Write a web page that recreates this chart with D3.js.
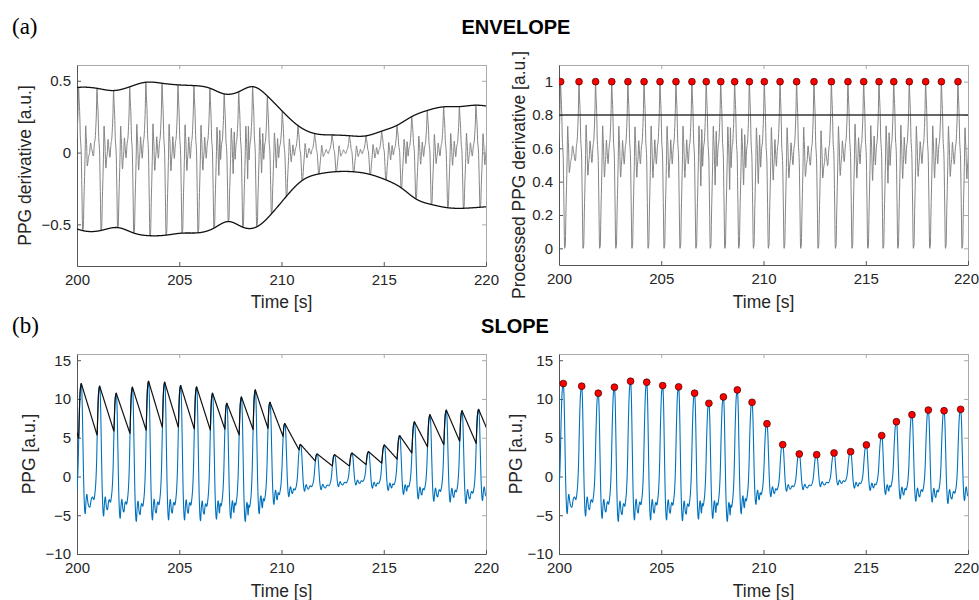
<!DOCTYPE html>
<html>
<head>
<meta charset="utf-8">
<script src="https://cdn.jsdelivr.net/npm/d3@7"></script>
<style>
  body { margin: 0; background: #fff; }
  svg { display: block; font-family: 'Liberation Sans', Arial, sans-serif; }
  .tick text { font-size: 15px; fill: #262626; }
  .axis-main path, .axis-main line { stroke: #555; }
  .axis-box path, .axis-box line { stroke: #aaa; }
  .label { font-size: 17.5px; fill: #262626; }
</style>
</head>
<body>
<svg id="chart" width="979" height="600"></svg>
<script>
// values
const timeTicks = [200, 205, 210, 215, 220]
const derivTicks = [-0.5, 0, 0.5]
const procTicks = [0, 0.2, 0.4, 0.6, 0.8, 1]
const ppgTicks = [-10, -5, 0, 5, 10, 15]

// PPG beats: peak time [s], peak value, trough after the peak [a.u.]
const beatTime = [198.55, 199.32, 200.21, 201.11, 201.92, 202.71, 203.50, 204.29, 205.07, 205.85,
  206.63, 207.33, 208.04, 208.72, 209.44, 210.17, 210.94, 211.75, 212.60, 213.45,
  214.26, 215.03, 215.78, 216.50, 217.26, 218.06, 218.83, 219.64, 220.42]
const beatPeak = [11.6, 11.0, 11.99, 11.65, 10.74, 11.52, 12.29, 12.16, 11.73, 11.56,
  10.74, 9.44, 10.26, 11.17, 9.57, 6.80, 4.11, 2.90, 2.81, 3.03,
  3.20, 4.07, 5.28, 7.06, 7.97, 8.57, 8.48, 8.66, 8.6]
const beatFoot = [-5.0, -4.8, -4.8, -5.1, -5.4, -5.8, -5.6, -5.6, -5.6, -5.7,
  -5.5, -5.4, -5.8, -4.8, -3.6, -2.6, -1.9, -1.7, -1.3, -1.1,
  -1.5, -1.8, -2.3, -2.9, -3.2, -3.3, -3.5, -3.1, -3.0]

// one beat, peak to next peak (nominal 0.8 s), level 0 = trough, 1 = peak
const beatShapePhase = [0, 0.05, 0.10, 0.15, 0.20, 0.24, 0.29, 0.34, 0.41, 0.47,
  0.53, 0.58, 0.64, 0.70, 0.76, 0.81, 0.86, 0.92, 0.96, 1]
const beatShapeLevel = [1, 0.88, 0.55, 0.22, 0.04, 0.0, 0.10, 0.15, 0.07, 0.05,
  0.11, 0.13, 0.11, 0.15, 0.24, 0.40, 0.68, 0.92, 0.98, 1]

const ENV_UPPER_MAX = 0.49     // highest upper envelope of the derivative
const THRESHOLD = 0.8
const SLOPE_DECAY = 0.72       // slope threshold decay, fraction of peak per second
const FS = 100
const P0 = 0.8, FALL = 0.3, RISE = 0.3   // fall and rise keep their nominal duration

// monotone cubic interpolation (flat at both ends)
function monotone(xs, ys) {
  const n = xs.length
  const d = [], m = []
  for (let i = 0; i < n - 1; i++) d.push((ys[i + 1] - ys[i]) / (xs[i + 1] - xs[i]))
  m[0] = 0
  m[n - 1] = 0
  for (let i = 1; i < n - 1; i++) m[i] = d[i - 1] * d[i] <= 0 ? 0 : (d[i - 1] + d[i]) / 2
  for (let i = 0; i < n - 1; i++) {
    if (d[i] === 0) { m[i] = 0; m[i + 1] = 0; continue }
    const a = m[i] / d[i], b = m[i + 1] / d[i]
    const s = a * a + b * b
    if (s > 9) {
      const k = 3 / Math.sqrt(s)
      m[i] = k * a * d[i]
      m[i + 1] = k * b * d[i]
    }
  }
  return x => {
    if (x <= xs[0]) return ys[0]
    if (x >= xs[n - 1]) return ys[n - 1]
    const i = d3.bisectRight(xs, x) - 1
    const h = xs[i + 1] - xs[i], t = (x - xs[i]) / h
    const t2 = t * t, t3 = t2 * t
    return (2 * t3 - 3 * t2 + 1) * ys[i] + (t3 - 2 * t2 + t) * h * m[i] +
      (-2 * t3 + 3 * t2) * ys[i + 1] + (t3 - t2) * h * m[i + 1]
  }
}

// natural cubic spline, used for the envelopes
function spline(xs, ys) {
  const n = xs.length
  const h = [], al = [], l = [1], mu = [0], z = [0]
  const b = [], c = new Array(n).fill(0), dd = []
  for (let i = 0; i < n - 1; i++) h[i] = xs[i + 1] - xs[i]
  for (let i = 1; i < n - 1; i++) {
    al[i] = 3 / h[i] * (ys[i + 1] - ys[i]) - 3 / h[i - 1] * (ys[i] - ys[i - 1])
    l[i] = 2 * (xs[i + 1] - xs[i - 1]) - h[i - 1] * mu[i - 1]
    mu[i] = h[i] / l[i]
    z[i] = (al[i] - h[i - 1] * z[i - 1]) / l[i]
  }
  for (let j = n - 2; j >= 0; j--) {
    c[j] = (j === 0 ? 0 : z[j]) - (j === 0 ? 0 : mu[j]) * c[j + 1]
    b[j] = (ys[j + 1] - ys[j]) / h[j] - h[j] * (c[j + 1] + 2 * c[j]) / 3
    dd[j] = (c[j + 1] - c[j]) / (3 * h[j])
  }
  return x => {
    const j = Math.max(0, Math.min(n - 2, d3.bisectRight(xs, x) - 1))
    const u = x - xs[j]
    return ys[j] + b[j] * u + c[j] * u * u + dd[j] * u * u * u
  }
}

// phase inside a beat: fall and rise at nominal speed, the rest stretched
function phaseOf(t, ta, tb) {
  const dt = t - ta
  if (dt <= FALL) return dt / P0
  if (tb - t <= RISE) return 1 - (tb - t) / P0
  const a = FALL / P0, b = 1 - RISE / P0
  return a + (b - a) * (dt - FALL) / (tb - ta - FALL - RISE)
}

// PPG built beat by beat: each interval keeps its own trough, peaks blend
const shape = monotone(beatShapePhase, beatShapeLevel)
const ppg = []
const nBeats = beatTime.length
for (let k = 0; beatTime[0] + k / FS <= beatTime[nBeats - 1]; k++) {
  const t = beatTime[0] + k / FS
  const i = Math.min(d3.bisectRight(beatTime, t) - 1, nBeats - 2)
  const w = (t - beatTime[i]) / (beatTime[i + 1] - beatTime[i])
  const peak = beatPeak[i] + (beatPeak[i + 1] - beatPeak[i]) * w
  const foot = beatFoot[i]
  ppg.push({ t, v: foot + (peak - foot) * shape(phaseOf(t, beatTime[i], beatTime[i + 1])) })
}

// derivative
const rawSlope = ppg.map((p, k) => {
  const a = ppg[Math.max(k - 1, 0)], b = ppg[Math.min(k + 1, ppg.length - 1)]
  return { t: p.t, v: (b.v - a.v) / (b.t - a.t) }
})

// derivative maxima (upstrokes) and minima (downstrokes), one per beat
const maxima = [], minima = []
for (let i = 1; i < nBeats; i++) {
  const w = rawSlope.filter(p => p.t > beatTime[i - 1] && p.t <= beatTime[i])
  maxima.push(w[d3.maxIndex(w, p => p.v)])
}
for (let i = 0; i < nBeats - 1; i++) {
  const w = rawSlope.filter(p => p.t >= beatTime[i] && p.t < beatTime[i + 1])
  minima.push(w[d3.minIndex(w, p => p.v)])
}
const gain = ENV_UPPER_MAX / d3.max(maxima.filter(p => p.t >= 200 && p.t <= 220), p => p.v)
const deriv = rawSlope.map(p => ({ t: p.t, v: p.v * gain }))

const upper = spline(maxima.map(p => p.t), maxima.map(p => p.v * gain))
const lower = spline(minima.map(p => p.t), minima.map(p => p.v * gain))
const envUp = deriv.map(p => ({ t: p.t, v: upper(p.t) }))
const envLo = deriv.map(p => ({ t: p.t, v: lower(p.t) }))
const norm = p => ({ t: p.t, v: (p.v - lower(p.t)) / (upper(p.t) - lower(p.t)) })
const processed = deriv.map(norm)
const procPeaks = maxima.filter(p => p.t >= 200 && p.t <= 220)
  .map(p => norm({ t: p.t, v: p.v * gain }))

// slope threshold: decays from each peak until the next upstroke catches it
const slopeLine = ppg.map(p => {
  const i = Math.min(d3.bisectRight(beatTime, p.t) - 1, nBeats - 2)
  const th = beatPeak[i] * (1 - SLOPE_DECAY * (p.t - beatTime[i]))
  return { t: p.t, v: Math.max(th, p.v) }
})
const ppgPeaks = beatTime.map((t, i) => ({ t, v: beatPeak[i] })).filter(p => p.t >= 200 && p.t <= 220)

const svg = d3.select('#chart')
const fmt = d => String(d).replace('-', '\u2212')

function panel({ id, x, y, w, h, yDomain, yTicks, yLabel, labelX, labelY, edge }) {
  const g = svg.append('g').attr('transform', `translate(${x},${y})`)
  const xs = d3.scaleLinear().domain([200, 220]).range([0, w])
  const ys = d3.scaleLinear().domain(yDomain).range([h, 0])

  g.append('clipPath').attr('id', id)
    .append('rect').attr('width', w).attr('height', h)

  g.append('g').attr('class', 'axis-box')
    .call(d3.axisTop(xs).tickValues(timeTicks).tickSize(-4).tickSizeOuter(0).tickFormat(''))
  g.append('g').attr('class', 'axis-box')
    .attr('transform', `translate(${w},0)`)
    .call(d3.axisRight(ys).tickValues(yTicks).tickSize(-4).tickSizeOuter(0).tickFormat(''))
  const xAxis = g.append('g').attr('class', 'axis-main')
    .attr('transform', `translate(0,${h})`)
    .call(d3.axisBottom(xs).tickValues(timeTicks).tickSize(-4).tickSizeOuter(0).tickPadding(8))
  g.append('g').attr('class', 'axis-main')
    .call(d3.axisLeft(ys).tickValues(yTicks).tickSize(-4).tickSizeOuter(0).tickPadding(6).tickFormat(fmt))
  g.selectAll('.domain').attr('stroke-width', 1)
  g.selectAll('.tick text').attr('font-family', null)
  // last label sits on the page edge
  if (edge) xAxis.selectAll('.tick text').filter(d => d === 220).attr('dx', -edge)

  g.append('text').attr('class', 'label')
    .attr('x', w / 2).attr('y', labelY)
    .attr('text-anchor', 'middle')
    .text('Time [s]')
  g.append('text').attr('class', 'label')
    .attr('transform', `translate(${labelX},${h / 2 + (yLabel.dy || 0)}) rotate(-90)`)
    .attr('text-anchor', 'middle')
    .attr('dy', '0.35em')
    .text(yLabel.text)

  const plot = g.append('g').attr('clip-path', `url(#${id})`)
  const line = d3.line().x(d => xs(d.t)).y(d => ys(d.v))
  return { plot, xs, ys, line }
}

function trace(p, data, color, width) {
  p.plot.append('path')
    .datum(data.filter(d => d.t >= 199.8 && d.t <= 220.2))
    .attr('fill', 'none')
    .attr('stroke', color)
    .attr('stroke-width', width)
    .attr('stroke-linejoin', 'round')
    .attr('d', p.line)
}

function dots(p, data) {
  p.plot.selectAll(null)
    .data(data)
    .enter()
    .append('circle')
    .attr('cx', d => p.xs(d.t))
    .attr('cy', d => p.ys(d.v))
    .attr('r', 3.4)
    .attr('fill', '#ff0000')
    .attr('stroke', '#3a0000')
    .attr('stroke-width', 0.7)
}

// (a) ENVELOPE
const a1 = panel({ id: 'c1', x: 77, y: 65, w: 409, h: 201, yDomain: [-0.79, 0.61], yTicks: derivTicks,
  yLabel: { text: 'PPG derivative [a.u.]' }, labelX: -52, labelY: 243 })
trace(a1, deriv, '#858585', 1)
trace(a1, envUp, '#111', 1.3)
trace(a1, envLo, '#111', 1.3)

const a2 = panel({ id: 'c2', x: 559, y: 65, w: 409, h: 200, yDomain: [-0.1, 1.1], yTicks: procTicks,
  yLabel: { text: 'Processed PPG derivative [a.u.]', dy: 10 }, labelX: -40, labelY: 243, edge: 2 })
trace(a2, processed, '#858585', 1)
a2.plot.append('line')
  .attr('x1', 0).attr('x2', 409)
  .attr('y1', a2.ys(THRESHOLD)).attr('y2', a2.ys(THRESHOLD))
  .attr('stroke', '#333').attr('stroke-width', 1.5)
dots(a2, procPeaks)

// (b) SLOPE
const b1 = panel({ id: 'c3', x: 77, y: 354, w: 409, h: 200, yDomain: [-10, 15.8], yTicks: ppgTicks,
  yLabel: { text: 'PPG [a.u.]' }, labelX: -48, labelY: 243 })
trace(b1, ppg, '#0072bd', 1.1)
trace(b1, slopeLine, '#111', 1.2)

const b2 = panel({ id: 'c4', x: 559, y: 354, w: 409, h: 200, yDomain: [-10, 15.8], yTicks: ppgTicks,
  yLabel: { text: 'PPG [a.u.]' }, labelX: -43, labelY: 243, edge: 2 })
trace(b2, ppg, '#0072bd', 1.1)
dots(b2, ppgPeaks)

// panel letters and titles
svg.append('text').attr('x', 12).attr('y', 34)
  .attr('font-family', "'Liberation Serif', 'DejaVu Serif', serif").attr('font-size', 23)
  .text('(a)')
svg.append('text').attr('x', 12).attr('y', 333)
  .attr('font-family', "'Liberation Serif', 'DejaVu Serif', serif").attr('font-size', 23)
  .text('(b)')
svg.append('text').attr('x', 516).attr('y', 34)
  .attr('text-anchor', 'middle').attr('font-weight', 'bold').attr('font-size', 20)
  .text('ENVELOPE')
svg.append('text').attr('x', 515).attr('y', 333)
  .attr('text-anchor', 'middle').attr('font-weight', 'bold').attr('font-size', 20)
  .text('SLOPE')
</script>
</body>
</html>
